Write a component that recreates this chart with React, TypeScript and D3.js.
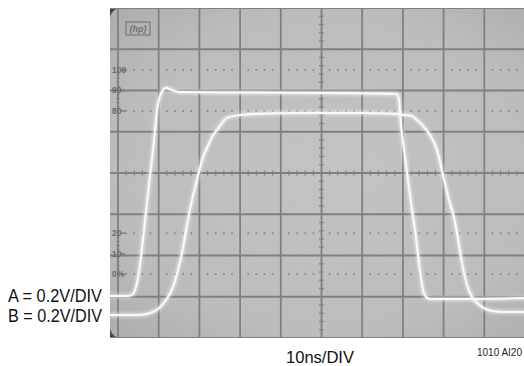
import React from "react";
import * as d3 from "d3";

// Time base: 10 ns/div, 10 divisions
const timeDomain = [0, 100];
// Vertical: 0.2 V/div, 8 divisions
const voltDomain = [0, 1.6];

// Trace A (fast edge)
const timeA = [-2, 2.5, 3.7, 4.4, 4.9, 5.7, 6.4, 7.6, 8.6, 9.8, 10.6, 11.8, 13.3, 15.2, 32.4, 50.4, 68.55, 69.04, 69.53, 70.27, 71.25, 72.24, 72.97, 73.71, 74.45, 74.94, 75.68, 76.66, 84.0, 101];
const voltsA = [0.204, 0.204, 0.213, 0.247, 0.291, 0.402, 0.524, 0.742, 0.912, 1.13, 1.188, 1.212, 1.202, 1.193, 1.19, 1.188, 1.183, 1.154, 1.033, 0.912, 0.766, 0.621, 0.524, 0.402, 0.291, 0.233, 0.199, 0.189, 0.189, 0.194];

// Trace B (slow edge)
const timeB = [-2, 5.41, 7.86, 9.83, 11.79, 13.51, 14.74, 15.72, 16.95, 18.18, 19.41, 20.64, 21.87, 23.1, 24.32, 26.78, 29.98, 33.17, 43.98, 59.46, 68.55, 70.52, 72.24, 73.46, 74.94, 76.66, 78.38, 79.85, 81.33, 82.8, 83.78, 84.77, 85.75, 86.98, 88.21, 89.93, 91.89, 95.09, 101];
const voltsB = [0.112, 0.112, 0.121, 0.141, 0.184, 0.247, 0.33, 0.412, 0.548, 0.669, 0.766, 0.863, 0.921, 0.975, 1.008, 1.067, 1.081, 1.086, 1.091, 1.091, 1.086, 1.081, 1.076, 1.057, 1.028, 0.984, 0.912, 0.79, 0.669, 0.562, 0.451, 0.339, 0.257, 0.199, 0.17, 0.145, 0.131, 0.126, 0.126];

// Percent graticule labels
const percentLabels = ["100", "90", "80", "20", "10", "0%"];
const percentValues = [100, 90, 80, 20, 10, 0];
const dottedPercents = [100, 80, 20, 0];

const scaleLabelA = "A = 0.2V/DIV";
const scaleLabelB = "B = 0.2V/DIV";
const timeLabel = "10ns/DIV";
const figId = "1010 AI20";

export default function App() {
  const W = 524, H = 366;
  const left = 118, right = 525, top = 8, bottom = 338;
  const x = d3.scaleLinear().domain(timeDomain).range([left, right]);
  const y = d3.scaleLinear().domain(voltDomain).range([bottom, top]);
  const pct = d3.scaleLinear().domain([0, 100]).range([y(0.31), y(1.299)]);

  const xMajor = d3.range(0, 101, 10);
  const yMajor = d3.range(0, 1.6001, 0.2);
  const xMinor = d3.range(0, 100.001, 2).filter((t) => t % 10 !== 0);
  const yMinor = d3.range(0, 1.6001, 0.04).filter((v) => Math.abs(v / 0.2 - Math.round(v / 0.2)) > 0.01);
  const pctMinor = d3.range(0, 101, 2);

  const mk = d3.line<[number, number]>().x((d) => x(d[0])).y((d) => y(d[1])).curve(d3.curveMonotoneX);
  const pathA = mk(timeA.map((t, i) => [t, voltsA[i]] as [number, number]));
  const pathB = mk(timeB.map((t, i) => [t, voltsB[i]] as [number, number]));

  const cx = x(50);
  const cy = y(0.8);
  const gridColor = "#808080";
  const font = "'Liberation Sans Narrow', 'Arial Narrow', 'Liberation Sans', Arial, sans-serif";

  return (
    <svg width={W} height={H} style={{ position: "absolute", left: 0, top: 0, background: "#fff" }}>
      <defs>
        <radialGradient id="scr" cx="0.5" cy="0.5" r="0.75">
          <stop offset="0" stopColor="#c4c4c4" />
          <stop offset="0.65" stopColor="#bcbcbc" />
          <stop offset="1" stopColor="#a8a8a8" />
        </radialGradient>
        <filter id="noise" x="0" y="0" width="100%" height="100%">
          <feTurbulence type="fractalNoise" baseFrequency="0.8" numOctaves="2" seed="3" />
          <feColorMatrix type="matrix" values="0 0 0 0 0.5  0 0 0 0 0.5  0 0 0 0 0.5  0 0 0 0.35 0" />
        </filter>
        <filter id="glow" x="-10%" y="-10%" width="120%" height="120%">
          <feGaussianBlur stdDeviation="1.5" />
        </filter>
        <clipPath id="clip">
          <rect x={110} y={top} width={W - 110} height={bottom - top} />
        </clipPath>
      </defs>

      {/* screen */}
      <rect x={110} y={top} width={14} height={14} fill="#3a3a3a" />
      <rect x={110} y={bottom - 14} width={14} height={14} fill="#3a3a3a" />
      <rect x={110} y={top} width={440} height={bottom - top} rx={11} fill="url(#scr)" />
      <rect x={110} y={top} width={440} height={bottom - top} rx={11} filter="url(#noise)" opacity={0.5} />

      <g clipPath="url(#clip)">
        {/* major grid */}
        {xMajor.map((t) => (
          <line key={"vx" + t} x1={x(t)} x2={x(t)} y1={top} y2={bottom} stroke={gridColor} strokeWidth={1.8} />
        ))}
        {yMajor.map((v) => (
          <line key={"hy" + v} x1={110} x2={W} y1={y(v)} y2={y(v)} stroke={gridColor} strokeWidth={1.8} />
        ))}
        {/* center minor ticks */}
        {xMinor.map((t) => (
          <line key={"mx" + t} x1={x(t)} x2={x(t)} y1={cy - 2.5} y2={cy + 2.5} stroke={gridColor} strokeWidth={1.2} />
        ))}
        {yMinor.map((v) => (
          <line key={"my" + v} x1={cx - 2.5} x2={cx + 2.5} y1={y(v)} y2={y(v)} stroke={gridColor} strokeWidth={1.2} />
        ))}
        {/* dotted percent rows */}
        {dottedPercents.map((p) =>
          xMinor.map((t) => (
            <circle key={"d" + p + "_" + t} cx={x(t)} cy={pct(p)} r={1} fill="#878787" />
          ))
        )}
        {/* left percent scale small ticks */}
        {pctMinor
          .filter((p) => (p >= 80 || p <= 20) && p % 10 !== 0)
          .map((p) => (
            <line key={"pm" + p} x1={x(0) - 1.5} x2={x(0) + 1.5} y1={pct(p)} y2={pct(p)} stroke="#7a7a7a" strokeWidth={1} />
          ))}
        {percentValues.map((p) => (
          <line key={"pt" + p} x1={x(0) + 3} x2={x(0) + 7} y1={pct(p)} y2={pct(p)} stroke="#7a7a7a" strokeWidth={1.4} />
        ))}
        {percentLabels.map((s, i) => (
          <text key={"pl" + s} x={x(0) - 6} y={pct(percentValues[i]) + 3} textAnchor="start" fontSize={8.5} fontWeight="bold" fill="#6a6a6a" fontFamily={font}>
            {s}
          </text>
        ))}
        {/* hp logo */}
        <rect x={126} y={22} width={24} height={13} fill="none" stroke="#7a7a7a" strokeWidth={1.2} />
        <text x={138} y={32} textAnchor="middle" fontSize={9} fontStyle="italic" fontWeight="bold" fill="#707070" fontFamily={font}>
          (hp)
        </text>

        {/* traces */}
        <path d={pathB || ""} fill="none" stroke="#ffffff" strokeWidth={4.5} opacity={0.5} filter="url(#glow)" />
        <path d={pathA || ""} fill="none" stroke="#ffffff" strokeWidth={4.5} opacity={0.5} filter="url(#glow)" />
        <path d={pathB || ""} fill="none" stroke="#fafafa" strokeWidth={2} />
        <path d={pathA || ""} fill="none" stroke="#fafafa" strokeWidth={2} />
      </g>

      {/* labels */}
      <text x={8} y={302} fontSize={18} fontFamily={font} fill="#111" textLength={94} lengthAdjust="spacingAndGlyphs">
        {scaleLabelA}
      </text>
      <text x={8} y={322} fontSize={18} fontFamily={font} fill="#111" textLength={94} lengthAdjust="spacingAndGlyphs">
        {scaleLabelB}
      </text>
      <text x={286} y={363} fontSize={17} fontFamily={font} fill="#111" textLength={68} lengthAdjust="spacingAndGlyphs">
        {timeLabel}
      </text>
      <text x={522} y={356} fontSize={10} textAnchor="end" fontFamily={font} fill="#222">
        {figId}
      </text>
    </svg>
  );
}
